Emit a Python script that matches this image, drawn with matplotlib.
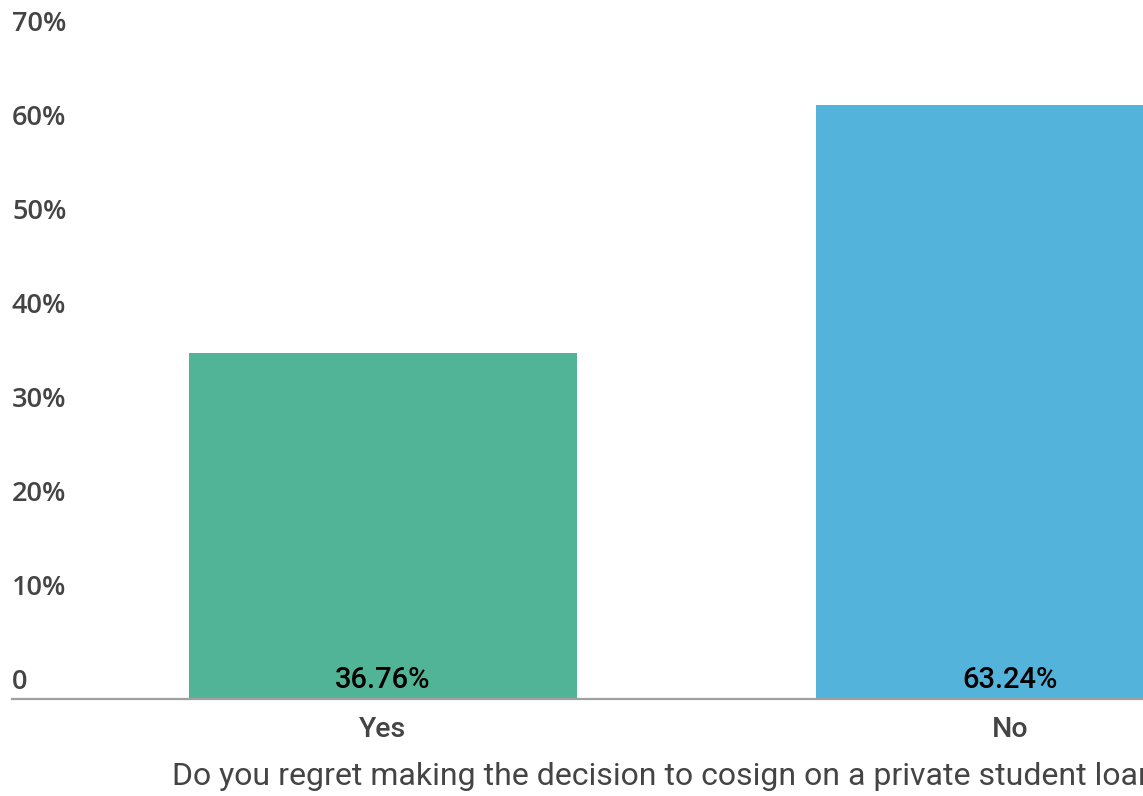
import matplotlib
matplotlib.use("Agg")
import matplotlib.pyplot as plt
import matplotlib.transforms as mtransforms

answers = ["Yes", "No"]
shares = [36.76, 63.24]
bar_colors = ["#52b496", "#53b3db"]
y_ticks = [0, 10, 20, 30, 40, 50, 60, 70]
question = "Do you regret making the decision to cosign on a private student loan"

fig = plt.figure(figsize=(11.43, 7.96), dpi=100)
# axes runs off the right edge of the canvas, so the second bar gets cut
ax = fig.add_axes([12 / 1143, 97 / 796, 1369 / 1143, 658 / 796])

x = range(len(answers))
ax.bar(x, shares, width=0.619, color=bar_colors, zorder=2)
ax.set_xlim(-0.5917, 1.5917)
ax.set_ylim(0, 70)

for s in ["top", "right", "left"]:
    ax.spines[s].set_visible(False)
ax.spines["bottom"].set_color("#a0a0a0")
ax.spines["bottom"].set_linewidth(1.6)
ax.spines["bottom"].set_zorder(3)

ax.set_xticks(list(x))
ax.set_xticklabels(answers, fontfamily="Roboto", fontweight="medium",
                   fontsize=20.5, color="#444444")
ax.tick_params(axis="x", length=0, pad=12)
ax.set_yticks([])

# y labels sit just above their value line, flush with the left edge
lift = mtransforms.ScaledTranslation(0, 19 / 100, fig.dpi_scale_trans)
ylift = mtransforms.ScaledTranslation(0, 17 / 100, fig.dpi_scale_trans)
for v in y_ticks:
    txt = "0" if v == 0 else f"{v}%"
    ax.text(0, v, txt, transform=ax.get_yaxis_transform() + ylift,
            ha="left", va="center", fontfamily="Open Sans",
            fontweight="semibold", fontsize=19.5, color="#444444")

for xi, val in zip(x, shares):
    ax.text(xi, 0, f"{val:.2f}%", transform=ax.transData + lift,
            ha="center", va="center", fontfamily="Roboto",
            fontweight="medium", fontsize=21, color="#000000", zorder=4)

ax.set_xlabel(question, fontfamily="Roboto", fontsize=23,
              color="#444444", labelpad=13)
ax.xaxis.set_label_coords(0.476, -0.095)

fig.savefig("out.png", dpi=100)
